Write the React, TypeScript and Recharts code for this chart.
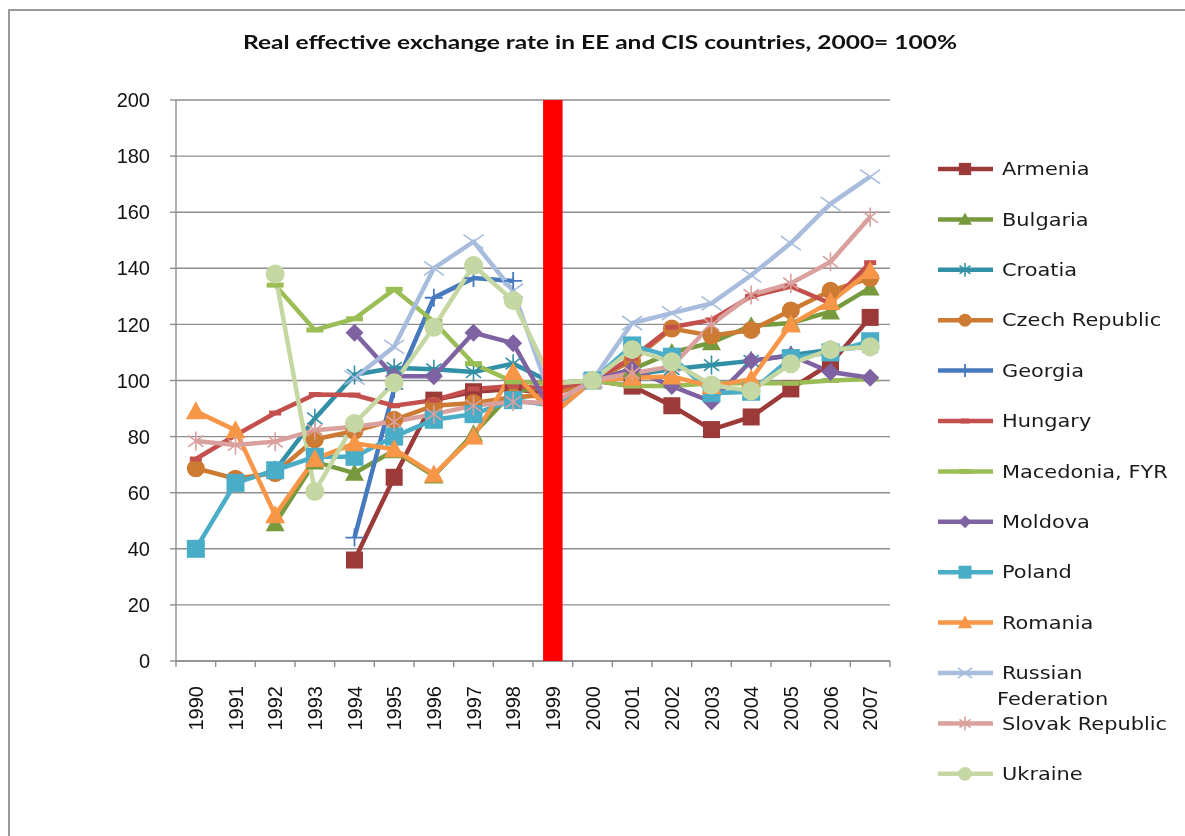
import React from 'react';
import { LineChart, Line, XAxis, YAxis, CartesianGrid, ReferenceLine } from 'recharts';

const years = ['1990','1991','1992','1993','1994','1995','1996','1997','1998','1999','2000','2001','2002','2003','2004','2005','2006','2007'];
const yTicks = [0, 20, 40, 60, 80, 100, 120, 140, 160, 180, 200];
const dividerYear = '1999';

const armenia = [null, null, null, null, 36, 65.5, 93, 96, 97, 95, 100, 98, 91, 82.5, 87, 97, 106, 122.5];
const bulgaria = [null, null, 49, 71, 67, 75, 66, 81, 96, 98, 100, 104, 110, 113.5, 119.5, 120.5, 124.5, 133];
const croatia = [null, null, 68, 86.5, 102, 104.5, 104, 103, 106, 99, 100, 102, 104, 105.5, 107, 109, 111, 112];
const czech = [68.7, 65, 67, 79, 82, 86, 91, 92, 94, 95, 100, 107, 118.5, 116, 118, 125, 132, 136.5];
const georgia = [null, null, null, null, 44, 97, 129.5, 136.5, 135.5, null, null, null, null, null, null, null, null, null];
const hungary = [72, 80.5, 88.4, 95, 94.8, 91, 93, 97, 98, 97, 100, 108, 119, 121.6, 130, 133.5, 127.5, 142];
const macedonia = [null, null, 134, 118, 122, 132.5, 121, 106, 99.5, 99, 100, 98, 98, 99, 99, 99, 100, 100.5];
const moldova = [null, null, null, null, 117, 101.5, 101.5, 117, 113.3, 88, 100, 104, 98, 92.5, 107, 109, 103, 101];
const poland = [40, 63.5, 68, 72.8, 72.8, 80, 86, 88, 93, 91, 100, 112.5, 108.5, 95.5, 96, 108, 110, 114];
const romania = [89, 82.3, 52, 72, 77.6, 75.5, 66.5, 80, 103, 88, 100, 101, 101.4, 98, 100.5, 120, 128, 139];
const russia = [null, null, null, null, 101, 112, 140, 149.5, 132, 92, 100, 120.5, 124, 127.5, 137.5, 149, 163, 172.7];
const slovak = [78.4, 77, 78.2, 82.3, 83.5, 85.3, 88, 91, 92.4, 92, 100, 102.6, 105, 120, 130.5, 134.6, 142.3, 158.3];
const ukraine = [null, null, 138, 60.4, 84.7, 99.2, 119, 141, 128.5, 99, 100, 111, 106.7, 98.4, 96.3, 106, 111, 112];

type Shape = 'square' | 'triangle' | 'asterisk' | 'circle' | 'plus' | 'dash' | 'diamond' | 'x';

const series: { name: string; label: string[]; values: (number | null)[]; color: string; shape: Shape; size: number }[] = [
  { name: 'Armenia', label: ['Armenia'], values: armenia, color: '#9B3A38', shape: 'square', size: 17 },
  { name: 'Bulgaria', label: ['Bulgaria'], values: bulgaria, color: '#779A3E', shape: 'triangle', size: 19 },
  { name: 'Croatia', label: ['Croatia'], values: croatia, color: '#3290A6', shape: 'asterisk', size: 19 },
  { name: 'Czech Republic', label: ['Czech Republic'], values: czech, color: '#CD7A33', shape: 'circle', size: 18 },
  { name: 'Georgia', label: ['Georgia'], values: georgia, color: '#4679BE', shape: 'plus', size: 18 },
  { name: 'Hungary', label: ['Hungary'], values: hungary, color: '#C4504D', shape: 'dash', size: 12 },
  { name: 'Macedonia, FYR', label: ['Macedonia, FYR'], values: macedonia, color: '#9BBD55', shape: 'dash', size: 17 },
  { name: 'Moldova', label: ['Moldova'], values: moldova, color: '#7F62A1', shape: 'diamond', size: 18 },
  { name: 'Poland', label: ['Poland'], values: poland, color: '#4AADC8', shape: 'square', size: 18 },
  { name: 'Romania', label: ['Romania'], values: romania, color: '#F79646', shape: 'triangle', size: 20 },
  { name: 'Russian Federation', label: ['Russian', 'Federation'], values: russia, color: '#A8BCDD', shape: 'x', size: 20 },
  { name: 'Slovak Republic', label: ['Slovak Republic'], values: slovak, color: '#D9A09D', shape: 'asterisk', size: 19 },
  { name: 'Ukraine', label: ['Ukraine'], values: ukraine, color: '#C5D8A3', shape: 'circle', size: 19 },
];

const data = years.map((year, i) => {
  const row: Record<string, number | string | null> = { x: i + 0.5, year };
  series.forEach((s) => {
    row[s.name] = s.values[i];
  });
  return row;
});

const CHART_W = 1169;
const CHART_H = 820;
const Y_AXIS_W = 80;
const X_AXIS_H = 100;
const MARGIN = { top: 92, right: 287, bottom: 67, left: 88 };
const PLOT_W = CHART_W - MARGIN.left - MARGIN.right - Y_AXIS_W;
const HALF_BAND = PLOT_W / years.length / 2;
const GRID = '#8E8E8E';

function Marker({ shape, cx, cy, color, s }: { shape: Shape; cx: number; cy: number; color: string; s: number }) {
  const h = s / 2;
  switch (shape) {
    case 'square':
      return <rect x={cx - h} y={cy - h} width={s} height={s} fill={color} />;
    case 'circle':
      return <circle cx={cx} cy={cy} r={h} fill={color} />;
    case 'triangle':
      return <polygon points={`${cx},${cy - h} ${cx + h},${cy + h * 0.8} ${cx - h},${cy + h * 0.8}`} fill={color} />;
    case 'diamond':
      return <polygon points={`${cx},${cy - h} ${cx + h},${cy} ${cx},${cy + h} ${cx - h},${cy}`} fill={color} />;
    case 'x':
      return (
        <path d={`M${cx - h},${cy - h * 0.7}L${cx + h},${cy + h * 0.7}M${cx + h},${cy - h * 0.7}L${cx - h},${cy + h * 0.7}`} stroke={color} strokeWidth={1.6} fill="none" />
      );
    case 'asterisk':
      return (
        <path
          d={`M${cx},${cy - h}L${cx},${cy + h}M${cx - h * 0.8},${cy - h * 0.6}L${cx + h * 0.8},${cy + h * 0.6}M${cx + h * 0.8},${cy - h * 0.6}L${cx - h * 0.8},${cy + h * 0.6}`}
          stroke={color}
          strokeWidth={1.6}
          fill="none"
        />
      );
    case 'plus':
      return <path d={`M${cx - h},${cy}L${cx + h},${cy}M${cx},${cy - h}L${cx},${cy + h}`} stroke={color} strokeWidth={1.8} fill="none" />;
    case 'dash':
      return <rect x={cx - h} y={cy - 2.5} width={s} height={5} fill={color} />;
    default:
      return null;
  }
}

function makeDot(s: (typeof series)[number]) {
  return (props: any) => {
    const { cx, cy, value, index } = props;
    const key = `${s.name}-${index}`;
    if (value == null || cx == null || cy == null || isNaN(cx) || isNaN(cy)) return <g key={key} />;
    return (
      <g key={key}>
        <Marker shape={s.shape} cx={cx} cy={cy} color={s.color} s={s.size} />
      </g>
    );
  };
}

function XTick(props: any) {
  const { x, y, payload } = props;
  const i = payload.value;
  if (i >= years.length) return <g />;
  const cx = x + HALF_BAND;
  const ty = y + 17;
  return (
    <text
      x={cx}
      y={ty}
      transform={`rotate(-90, ${cx}, ${ty})`}
      textAnchor="end"
      dominantBaseline="central"
      fontFamily="'Liberation Sans', Arial, sans-serif"
      fontSize={20}
      fill="#111"
    >
      {years[i]}
    </text>
  );
}

function LegendBox() {
  const top = 169 - 8;
  const step = 50.4;
  return (
    <svg width={250} height={810} style={{ position: 'absolute', left: 918, top: 0 }}>
      {series.map((s, i) => {
        const y = top + i * step;
        return (
          <g key={s.name}>
            <line x1={930 - 918} x2={985 - 918} y1={y} y2={y} stroke={s.color} strokeWidth={4.5} />
            <Marker shape={s.shape} cx={957 - 918} cy={y} color={s.color} s={s.size * 0.72} />
            {s.label.map((t, j) => (
              <text
                key={t}
                transform={`translate(${(j === 0 ? 994 : 989) - 918}, ${y + j * 26}) scale(1.23, 1)`}
                dominantBaseline="central"
                fontFamily="'DejaVu Sans', Verdana, sans-serif"
                fontSize={17}
                fill="#1a1a1a"
              >
                {t}
              </text>
            ))}
          </g>
        );
      })}
    </svg>
  );
}

export default function App() {
  const xTicks = years.map((_, i) => i).concat([years.length]);
  const dividerX = years.indexOf(dividerYear) + 0.5;
  return (
    <div style={{ position: 'relative', width: CHART_W, height: CHART_H }}>
      <div
        style={{
          position: 'fixed',
          left: 8,
          top: 9,
          width: 1300,
          height: 1000,
          borderLeft: '2px solid #9a9a9a',
          borderTop: '2px solid #9a9a9a',
          pointerEvents: 'none',
        }}
      />
      <svg width={CHART_W} height={60} style={{ position: 'absolute', left: 0, top: 0 }}>
        <text
          x={600 - 8}
          y={42 - 8}
          textAnchor="middle"
          dominantBaseline="central"
          fontFamily="Lato, 'Open Sans', sans-serif"
          fontWeight="bold"
          fontSize={18}
          textLength={714}
          lengthAdjust="spacingAndGlyphs"
          fill="#111"
        >
          Real effective exchange rate in EE and CIS countries, 2000= 100%
        </text>
      </svg>
      <LineChart width={CHART_W} height={CHART_H} data={data} margin={MARGIN}>
        <CartesianGrid vertical={false} stroke={GRID} strokeWidth={1.4} />
        <XAxis
          dataKey="x"
          type="number"
          domain={[0, years.length]}
          ticks={xTicks}
          interval={0}
          height={X_AXIS_H}
          tick={<XTick />}
          tickSize={6}
          tickLine={{ stroke: GRID, strokeWidth: 1.4 }}
          axisLine={{ stroke: GRID, strokeWidth: 1.4 }}
        />
        <YAxis
          type="number"
          domain={[0, 200]}
          ticks={yTicks}
          interval={0}
          width={Y_AXIS_W}
          tickSize={6}
          tickMargin={20}
          tickLine={{ stroke: GRID, strokeWidth: 1.4 }}
          axisLine={{ stroke: GRID, strokeWidth: 1.4 }}
          tick={{ fontFamily: "'Liberation Sans', Arial, sans-serif", fontSize: 20, fill: '#111' }}
        />
        {series.map((s) => (
          <Line
            key={s.name}
            dataKey={s.name}
            stroke={s.color}
            strokeWidth={4.5}
            dot={makeDot(s)}
            activeDot={false}
            isAnimationActive={false}
            connectNulls={false}
          />
        ))}
        <ReferenceLine x={dividerX} stroke="#FF0000" strokeWidth={19.5} {...({ zIndex: 2000 } as any)} />
      </LineChart>
      <LegendBox />
    </div>
  );
}
